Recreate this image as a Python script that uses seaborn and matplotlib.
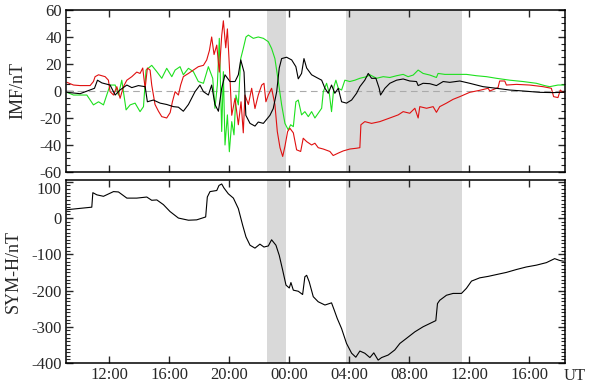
import matplotlib
matplotlib.use("Agg")
import matplotlib.pyplot as plt
import matplotlib.transforms as mtransforms
import seaborn as sns
import pandas as pd
from matplotlib.ticker import FixedLocator, MultipleLocator, FuncFormatter

# time in hours from 00:00 of the first day
black_t = [9.16, 10.04, 11.0, 11.2, 11.49, 12.04, 12.38, 12.7, 13.16, 13.49, 13.93, 14.38, 14.53,
           14.93, 15.38, 15.82, 16.27, 16.6, 16.93, 17.27, 17.71, 18.04, 18.27, 18.6, 18.82, 19.04,
           19.27, 19.49, 19.71, 20.04, 20.38, 20.6, 20.76, 20.98, 21.1, 21.38, 21.71, 21.93, 22.27,
           22.49, 22.71, 22.93, 23.16, 23.33, 23.49, 23.82, 24.16, 24.44, 24.6, 24.82, 24.98, 25.16,
           25.49, 25.82, 26.16, 26.38, 26.6, 26.82, 27.04, 27.27, 27.49, 27.82, 28.16, 28.49, 28.71,
           29.04, 29.27, 29.49, 29.78, 30.0, 30.09, 30.38, 30.71, 31.16, 31.6, 32.04, 32.49, 32.6,
           32.93, 33.38, 33.82, 34.27, 34.71, 35.38, 36.04, 36.93, 37.82, 38.71, 39.6, 40.71, 41.6,
           42.16, 42.35]
black_v = [-1, -2, 2, 8, 6, 4.4, -3, 0.7, 4.4, 2.5, 4, 3.2, -8,
           -6.7, -9, -10, -11.6, -12, -15, -10, -0.5, 4.4, -0.5, -3, 4.4, -10,
           -15, 2, 12, 7, 7, 12, 23, 14, -18, -24, -26, -23, -24,
           -21, -18, -13, -0.5, 17, 24, 25, 23, 18, 9, 13, 24, 17,
           12, 10, 8, 2, -1.7, 4.4, -1.7, 2, -8, -9, -6.7, -1.7, 3.2,
           8, 13, 9.4, 9.4, 2, -3, 2, 5.7, 8, 8.9, 7.4, 7, 4,
           5.7, 5.4, 4, 7, 6.4, 7.4, 5.7, 3.2, 2, 0.7, 0, -1, -1.2,
           -1, -1]

red_t = [9.16, 9.6, 10.04, 10.71, 10.93, 11.04, 11.27, 11.71, 11.93, 12.04, 12.27, 12.49, 12.71,
         12.93, 13.16, 13.49, 13.82, 14.04, 14.22, 14.38, 14.53, 14.71, 14.82, 15.04, 15.27, 15.49,
         15.82, 16.05, 16.2, 16.38, 16.6, 16.75, 16.93, 17.27, 17.6, 17.93, 18.27, 18.49, 18.67,
         18.82, 18.98, 19.16, 19.33, 19.49, 19.6, 19.76, 19.87, 20.0, 20.16, 20.38, 20.6, 20.78,
         20.93, 21.04, 21.27, 21.49, 21.71, 21.93, 22.16, 22.31, 22.44, 22.6, 22.82, 23.04, 23.2,
         23.38, 23.56, 23.71, 23.89, 24.04, 24.27, 24.49, 24.76, 24.93, 25.16, 25.49, 25.71, 25.93,
         26.27, 26.71, 26.93, 27.27, 27.6, 28.04, 28.49, 28.71, 28.78, 29.04, 29.49, 30.04, 30.71,
         31.27, 31.6, 32.04, 32.38, 32.6, 32.71, 33.16, 33.6, 33.82, 34.04, 34.49, 34.93, 35.38,
         36.04, 36.71, 37.27, 37.38, 37.93, 38.04, 38.38, 38.49, 39.16, 40.04, 40.93, 41.49, 41.64,
         41.93, 42.09, 42.22, 42.35]
red_v = [6.4, 4.4, 4, 4, 7, 10.6, 12, 10.6, 8, -0.5, -3, 3.2, -5.4,
         3.2, 8, 10.6, 14, 13, 17, 2, 17, 15.5, 4.4, -10, -15, -19,
         -20, -16, -8, -0.5, -3, 4.4, 10.6, 13, 15.5, 18, 19, 23, 30,
         40, 27, 34, 14, 41, 52, 32, 46, 19, -18, -5.4, -25, -8,
         -31, -3, -10, 2, -13, -3, 4.4, 5.7, -8, -3, 2, -10, -30,
         -42, -48.5, -41, -30, -27.6, -31, -43.6, -44.8, -35, -37.5, -40, -38.7, -42,
         -43, -44.8, -47.8, -46, -44.4, -43, -42.4, -42, -25, -22.7, -24, -22.7, -20,
         -17.7, -15.3, -16.5, -12.8, -20, -11.6, -12.8, -11.6, -15.8, -11.6, -9, -6.2, -4.2,
         -1, 0.5, 2, 0, 2.5, 7.4, 7.4, 4.4, 4.9, 4.4, 3.2, 2, -4.2,
         -4.9, 0.7, -1, -1]

green_t = [9.16, 9.6, 10.49, 10.93, 11.27, 11.6, 12.04, 12.38, 12.6, 12.82, 13.11, 13.38, 13.71,
           14.04, 14.27, 14.44, 14.82, 15.16, 15.49, 15.82, 16.16, 16.38, 16.71, 16.93, 17.27, 17.6,
           17.93, 18.27, 18.6, 18.89, 19.04, 19.2, 19.33, 19.49, 19.6, 19.71, 19.87, 20.0, 20.16,
           20.31, 20.44, 20.6, 20.76, 20.93, 21.11, 21.27, 21.6, 21.93, 22.27, 22.6, 22.82, 23.04,
           23.27, 23.49, 23.71, 23.93, 24.09, 24.27, 24.44, 24.6, 24.82, 25.04, 25.27, 25.49, 25.71,
           25.93, 26.16, 26.27, 26.49, 26.67, 26.82, 26.98, 27.11, 27.27, 27.49, 27.71, 28.04, 28.38,
           28.71, 29.16, 29.38, 29.82, 30.27, 30.71, 31.16, 31.6, 31.93, 32.27, 32.6, 32.93, 33.38,
           33.82, 33.93, 34.38, 35.16, 35.82, 36.49, 37.16, 37.82, 38.71, 39.6, 40.49, 41.04, 41.38,
           41.93, 42.35]
green_v = [-1, -3, -3, -10.3, -8, -10.3, 4.4, 4.4, -3, 8, -14, -10.3, -9,
           -15.3, -11.6, 15.5, 19, 14.3, 9.4, 16.8, 10.6, 15.5, 18, 12, 16.8, 14.3,
           7, 5.7, 18, 9.4, -12.8, 4.4, 39, -30, 14.3, -40, -17.7, -45, -22.7,
           -32.5, -3, -10.3, 24, 31.5, 40, 41.4, 39, 40, 39, 36.5, 31.5, 24,
           7, -10.3, -24, -28.8, -25, -26.4, -8, -6.7, -17.7, -15.3, -19, -15.3, -20,
           -16.5, -12.8, -0.5, 5.7, -1.7, -15.3, 3.2, 8, 2, 0.7, 8, 7, 8,
           9.4, 10.6, 12, 9.4, 10.6, 10, 11.3, 12.3, 10.6, 11.8, 15.5, 13, 11.8,
           10, 13, 12.3, 12.3, 12.3, 11.3, 10.6, 9.4, 8, 7, 5.7, 4, 3.2,
           4.4, 4.4]

symh_t = [9.16, 10.82, 10.89, 11.16, 11.6, 12.27, 12.6, 13.16, 13.82, 14.49, 14.82, 15.16, 15.6,
          16.04, 16.6, 17.27, 17.82, 18.42, 18.53, 18.71, 19.16, 19.31, 19.49, 19.64, 19.93, 20.27,
          20.6, 20.89, 21.11, 21.38, 21.71, 22.04, 22.31, 22.6, 22.82, 23.11, 23.33, 23.56, 23.78,
          24.0, 24.11, 24.27, 24.6, 24.89, 25.04, 25.16, 25.33, 25.6, 25.93, 26.38, 26.82, 27.0,
          27.2, 27.49, 27.82, 28.16, 28.44, 28.71, 29.04, 29.38, 29.64, 29.93, 30.16, 30.6, 31.04,
          31.38, 31.82, 32.38, 32.93, 33.38, 33.78, 33.89, 34.04, 34.49, 34.93, 35.49, 35.82, 36.16,
          36.71, 37.27, 37.93, 38.49, 39.16, 39.82, 40.49, 41.16, 41.71, 42.04, 42.3]
symh_v = [23, 30, 70, 64, 60, 73, 72, 55, 55, 58, 49, 50, 37,
          18, 0, -6, -5, 3, 58, 73, 76, 90, 94, 83, 67, 55,
          26, -20, -52, -75, -83, -72, -80, -77, -60, -75, -103, -144, -185,
          -193, -178, -199, -202, -211, -162, -158, -176, -217, -231, -240, -234, -254,
          -277, -305, -346, -373, -384, -367, -373, -385, -372, -392, -385, -378, -364,
          -346, -332, -314, -300, -291, -283, -236, -227, -213, -208, -208, -194, -174,
          -165, -161, -155, -150, -142, -135, -130, -123, -112, -117, -119]

shade_spans = [(22.53, 23.78), (27.76, 35.51)]
x_ticks = [12, 16, 20, 24, 28, 32, 36, 40]

sns.set_theme(style="ticks")
plt.rcParams.update({
    "font.family": ["Liberation Serif", "DejaVu Serif"],
    "font.size": 12,
    "axes.unicode_minus": False,
    "axes.linewidth": 1.1,
})

fig = plt.figure(figsize=(5.91, 3.87), dpi=100)
ax1 = fig.add_axes([0.1117, 0.5556, 0.8443, 0.4186])
ax2 = fig.add_axes([0.1117, 0.062, 0.8443, 0.4729])

imf = pd.concat([
    pd.DataFrame({"t": green_t, "v": green_v, "comp": "green"}),
    pd.DataFrame({"t": red_t, "v": red_v, "comp": "red"}),
    pd.DataFrame({"t": black_t, "v": black_v, "comp": "black"}),
])
colors = {"green": "#1ee01e", "red": "#e01010", "black": "black"}

for ax in (ax1, ax2):
    for a, b in shade_spans:
        ax.axvspan(a, b, color="#d9d9d9", lw=0, zorder=0)

ax1.axhline(0, color="#aaaaaa", lw=0.8, ls=(0, (6, 4)), zorder=1)
for comp in ["green", "red", "black"]:
    d = imf[imf["comp"] == comp]
    sns.lineplot(data=d, x="t", y="v", ax=ax1, color=colors[comp], lw=0.8,
                 estimator=None, sort=False, legend=False, zorder=2)

sns.lineplot(x=symh_t, y=symh_v, ax=ax2, color="black", lw=0.8,
             estimator=None, sort=False, legend=False)

for ax in (ax1, ax2):
    ax.set_xlim(9.1, 42.4)
    ax.xaxis.set_major_locator(FixedLocator(x_ticks))
    ax.tick_params(which="both", direction="in", top=True, right=True, labelsize=12, pad=3)
    ax.tick_params(which="major", length=5, width=1)
    ax.tick_params(which="minor", length=3, width=0.8)
    ax.set_xlabel("")
    for s in ax.spines.values():
        s.set_color("black")

ax1.set_ylim(-60, 60)
ax1.yaxis.set_major_locator(MultipleLocator(20))
ax1.yaxis.set_minor_locator(MultipleLocator(5))
ax1.set_xticklabels([])
ax1.set_ylabel("IMF/nT", fontsize=13)
ax1.yaxis.set_label_coords(-0.08, 0.5)

ax2.set_ylim(-400, 105)
ax2.yaxis.set_major_locator(FixedLocator([-400, -300, -200, -100, 0, 100]))
ax2.yaxis.set_minor_locator(MultipleLocator(10))
ax2.xaxis.set_major_formatter(FuncFormatter(lambda x, p: f"{int(x) % 24:02d}:00"))
ax2.set_ylabel("SYM-H/nT", fontsize=13)
ax2.yaxis.set_label_coords(-0.088, 0.5)

# nudge the edge labels apart like the original
fig.canvas.draw()
ax1.get_yticklabels()[-1].set_transform(
    ax1.get_yticklabels()[-1].get_transform() + mtransforms.ScaledTranslation(0, -3 / 100, fig.dpi_scale_trans))
ax2.get_yticklabels()[-1].set_transform(
    ax2.get_yticklabels()[-1].get_transform() + mtransforms.ScaledTranslation(0, -6 / 100, fig.dpi_scale_trans))

fig.text(0.972, 1 - 376 / 387, "UT", ha="center", va="center", fontsize=12)

fig.savefig("out.png", dpi=100)
